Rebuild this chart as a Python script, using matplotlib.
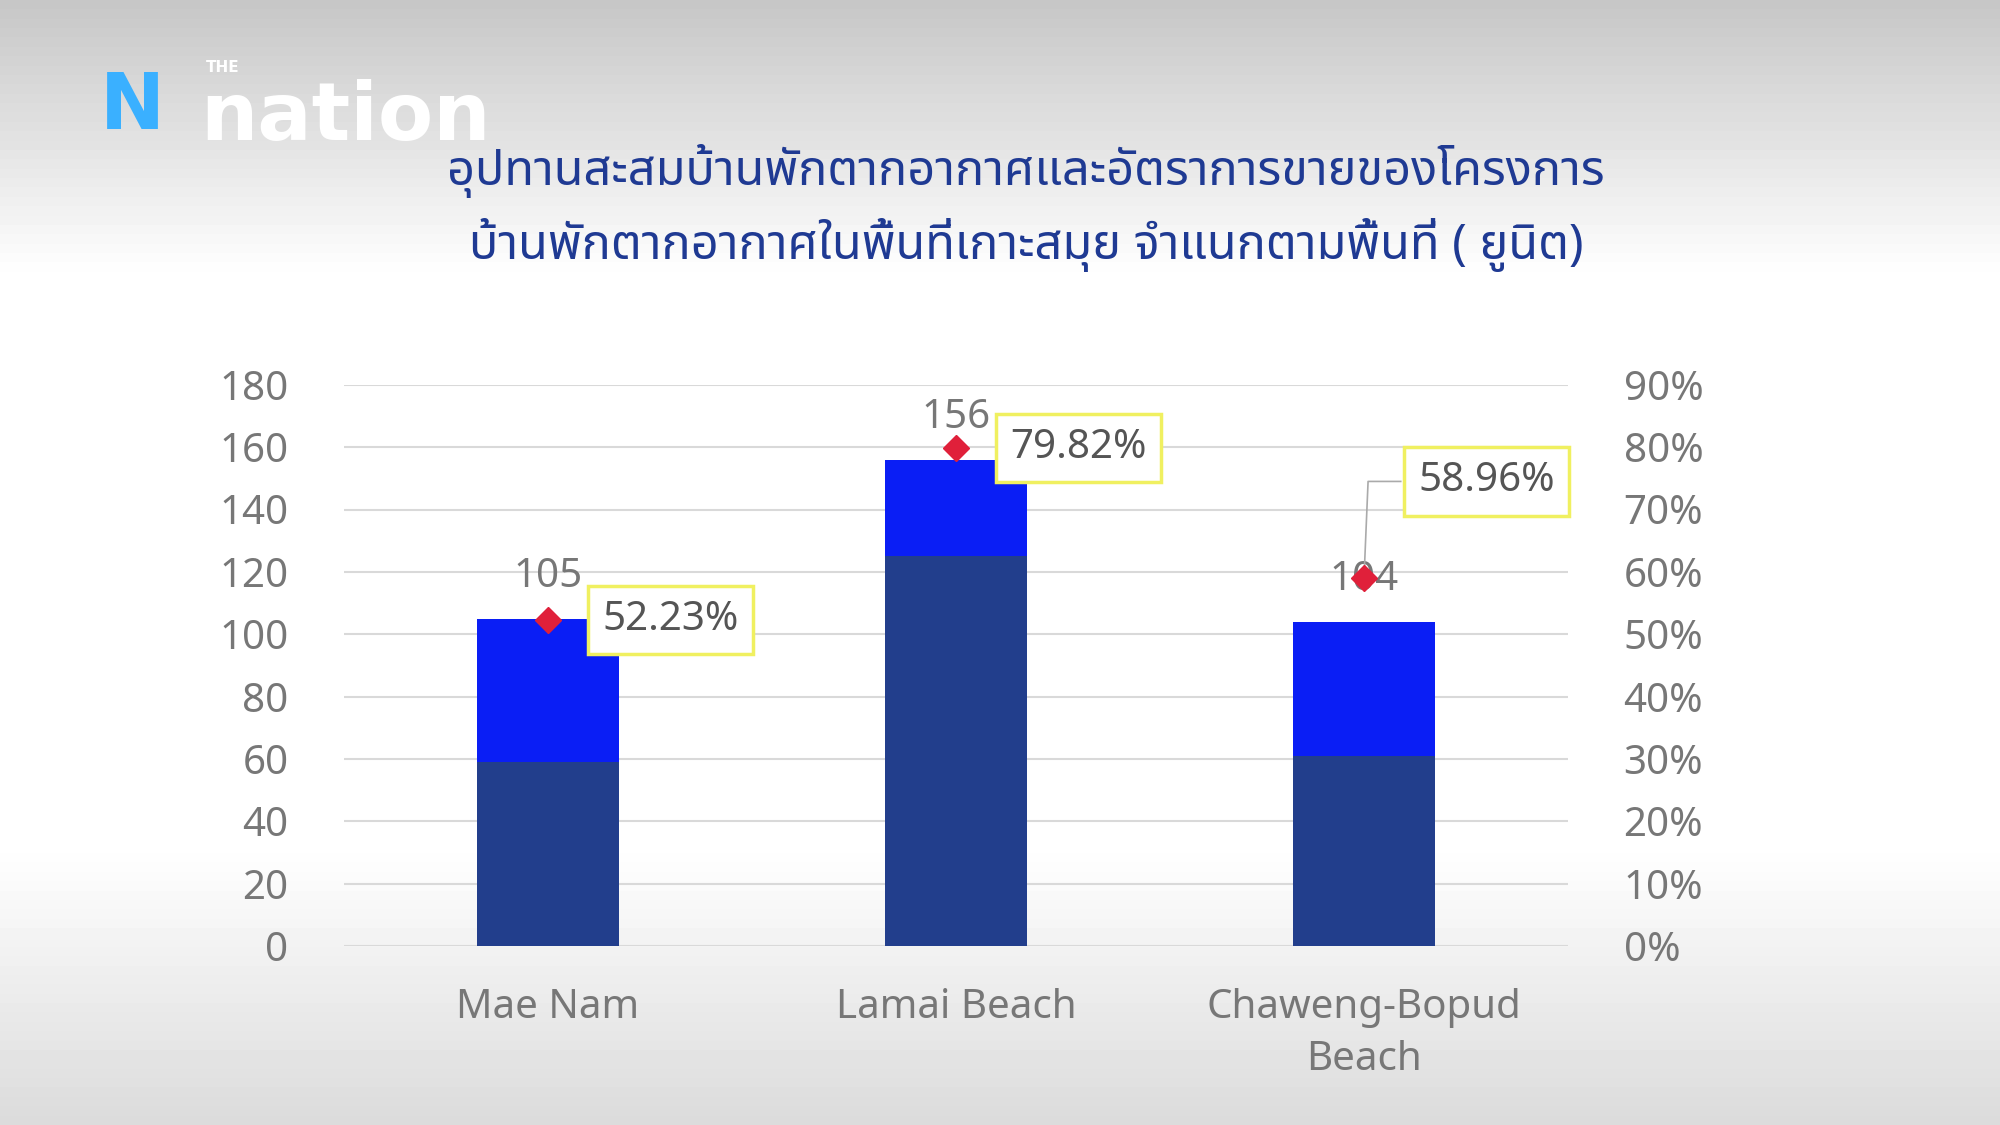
import numpy as np
import matplotlib.pyplot as plt

plt.rcParams['font.family'] = ['Noto Sans Thai', 'Loma', 'Tlwg Typist', 'DejaVu Sans']

areas = ['Mae Nam', 'Lamai Beach', 'Chaweng-Bopud\nBeach']
totals = [105, 156, 104]
sold = [59, 125, 61]
rates = [52.23, 79.82, 58.96]
title = 'อุปทานสะสมบ้านพักตากอากาศและอัตราการขายของโครงการ\nบ้านพักตากอากาศในพื้นที่เกาะสมุย จำแนกตามพื้นที่ ( ยูนิต)'

fig = plt.figure(figsize=(20, 11.25), dpi=100)
bg = fig.add_axes([0, 0, 1, 1], zorder=-10)
g = np.concatenate([np.linspace(0.78, 1.0, 30), np.ones(60), np.linspace(1.0, 0.86, 30)])
bg.imshow(g[:, None], cmap='gray', vmin=0, vmax=1, aspect='auto', extent=[0, 1, 0, 1])
bg.axis('off')

fig.text(0.05, 0.905, 'N', fontsize=56, color='#3ab0ff', fontweight='heavy', va='center', family='DejaVu Sans')
fig.text(0.1, 0.895, 'nation', fontsize=58, color='white', fontweight='bold', va='center', ha='left', family='DejaVu Sans')
fig.text(0.103, 0.94, 'THE', fontsize=11, color='white', fontweight='bold', va='center', family='DejaVu Sans')
fig.text(0.513, 0.815, title, ha='center', va='center', fontsize=35, color='#1f3a93', linespacing=1.5)

ax = fig.add_axes([0.172, 0.159, 0.612, 0.499])
x = np.arange(len(areas))
unsold = [t - s for t, s in zip(totals, sold)]
ax.bar(x, sold, 0.35, color='#223e8c', zorder=2)
ax.bar(x, unsold, 0.35, bottom=sold, color='#0a1ef5', zorder=2)
ax.set_ylim(0, 180)
ax.set_xlim(-0.5, 2.5)
ax.set_yticks(range(0, 181, 20))
ax.grid(axis='y', color='#d9d9d9', lw=1.5, zorder=0)
ax.set_facecolor('none')
for s in ax.spines.values():
    s.set_visible(False)
ax.tick_params(length=0, labelsize=29, labelcolor='#777777', pad=40)
ax.tick_params(axis='x', pad=30)
ax.set_xticks(x)
ax.set_xticklabels(areas, fontsize=29, color='#777777', linespacing=1.4)
for i, t in enumerate(totals):
    ax.text(i, t + 7, str(t), ha='center', va='bottom', fontsize=29, color='#777777')

ax2 = ax.twinx()
ax2.set_ylim(0, 90)
ax2.set_yticks(range(0, 91, 10))
ax2.set_yticklabels([f'{v}%' for v in range(0, 91, 10)])
for s in ax2.spines.values():
    s.set_visible(False)
ax2.tick_params(length=0, labelsize=29, labelcolor='#777777', pad=40)
ax2.plot(x, rates, 'D', color='#e0203a', ms=13, ls='none', zorder=5)
offs = [(0.3, 52.23), (0.3, 79.82), (0.3, 74.5)]
ax2.plot([2, 2.01, 2.09], [rates[2], 74.5, 74.5], color='#aaaaaa', lw=1.2)
for i, (r, (dx, yy)) in enumerate(zip(rates, offs)):
    ax2.text(i + dx, yy, f'{r:.2f}%', ha='center', va='center', fontsize=29, color='#555555',
             bbox=dict(boxstyle='square,pad=0.35', fc='white', ec='#f0f060', lw=2.5), zorder=6)

fig.savefig('out.png')
